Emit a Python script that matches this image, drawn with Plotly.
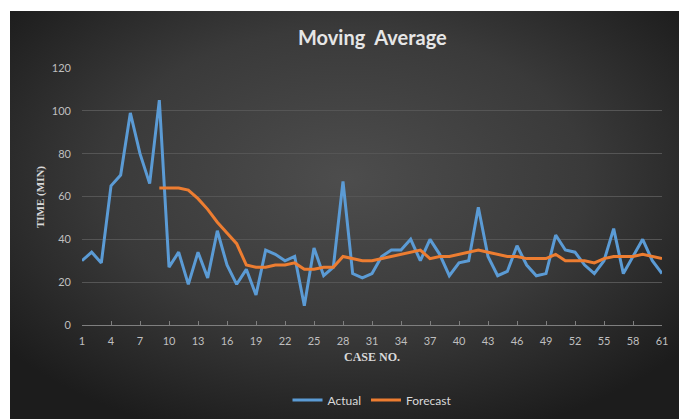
import base64
import plotly.graph_objects as go

cases = list(range(1, 62))
actual = [30, 34, 29, 65, 70, 99, 80, 66, 105, 27, 34, 19, 34, 22, 44, 28, 19, 26, 14, 35,
          33, 30, 32, 9, 36, 23, 27, 67, 24, 22, 24, 32, 35, 35, 40, 30, 40, 33, 23, 29,
          30, 55, 32, 23, 25, 37, 28, 23, 24, 42, 35, 34, 28, 24, 30, 45, 24, 32, 40, 30, 24]
forecast_cases = list(range(9, 62))
forecast = [64, 64, 64, 63, 59, 54, 48, 43, 38, 28, 27, 27, 28, 28, 29, 26, 26, 27, 27, 32,
            31, 30, 30, 31, 32, 33, 34, 35, 31, 32, 32, 33, 34, 35, 34, 33, 32, 32, 31, 31,
            31, 33, 30, 30, 30, 29, 31, 32, 32, 32, 33, 32, 31]
x_ticks = list(range(1, 62, 3))
y_ticks = [0, 20, 40, 60, 80, 100, 120]

svg = ("<svg xmlns='http://www.w3.org/2000/svg' width='671' height='408' preserveAspectRatio='none'>"
       "<defs><radialGradient id='g' cx='50%' cy='40%' r='65%'>"
       "<stop offset='0' stop-color='#4d4d4d'/><stop offset='0.55' stop-color='#3a3a3a'/>"
       "<stop offset='1' stop-color='#1c1c1c'/></radialGradient></defs>"
       "<rect width='671' height='408' fill='url(#g)'/></svg>")
bg_src = "data:image/svg+xml;base64," + base64.b64encode(svg.encode()).decode()

fig = go.Figure()
fig.add_trace(go.Scatter(x=cases, y=actual, mode="lines", name="Actual",
                         line=dict(color="#5B9BD5", width=3)))
fig.add_trace(go.Scatter(x=forecast_cases, y=forecast, mode="lines", name="Forecast",
                         line=dict(color="#ED7D31", width=3)))

# page body has an 8px default margin; figure is sized to fit the window
OFF = 8
W, H = 687 - OFF, 419 - OFF
plot_left, plot_right, plot_top, plot_bottom = 82, 662, 68, 325  # window pixels
L = plot_left - OFF
R = W - (plot_right - OFF)
T = plot_top - OFF
B = H - (plot_bottom - OFF)
pw, ph = W - L - R, H - T - B

def px2x(px):
    return (px - OFF - L) / pw

def py2y(py):
    return (H - B - (py - OFF)) / ph

fig.add_layout_image(dict(source=bg_src, xref="paper", yref="paper",
                          x=px2x(10), y=py2y(11), sizex=(681 - 10) / pw, sizey=(430 - 11) / ph,
                          xanchor="left", yanchor="top", sizing="stretch", layer="below"))

fig.update_layout(
    width=W, height=H,
    margin=dict(l=L, r=R, t=T, b=B, autoexpand=False),
    paper_bgcolor="white", plot_bgcolor="rgba(0,0,0,0)",
    font=dict(family="Lato", color="#bfbfbf", size=11),
    showlegend=True,
    legend=dict(orientation="h", x=0.5, xanchor="center", y=py2y(400), yanchor="middle",
                font=dict(color="#d9d9d9", size=12), bgcolor="rgba(0,0,0,0)"),
    xaxis=dict(range=[1, 61], tickvals=x_ticks, showgrid=False, zeroline=False,
               showline=True, linecolor="#7f7f7f", linewidth=1,
               ticks="inside", ticklen=4, tickcolor="#7f7f7f",
               ticklabelstandoff=6, tickfont=dict(size=11, color="#bfbfbf")),
    yaxis=dict(range=[0, 120], tickvals=y_ticks, showgrid=True, gridcolor="#555555",
               gridwidth=1, zeroline=False, showline=False,
               ticklabelstandoff=10, tickfont=dict(size=11, color="#bfbfbf")),
    annotations=[
        dict(text="<b>Moving  Average</b>", xref="paper", yref="paper", x=0.5, y=py2y(37),
             xanchor="center", yanchor="middle", showarrow=False,
             font=dict(family="Lato", size=20, color="#e6e6e6")),
        dict(text="<b>CASE NO.</b>", xref="paper", yref="paper", x=0.5, y=py2y(357),
             xanchor="center", yanchor="middle", showarrow=False,
             font=dict(family="Liberation Serif", size=12, color="#d9d9d9")),
        dict(text="<b>TIME (MIN)</b>", xref="paper", yref="paper", x=px2x(40), y=py2y(197),
             xanchor="center", yanchor="middle", showarrow=False, textangle=-90,
             font=dict(family="Liberation Serif", size=11, color="#d9d9d9")),
    ],
)

fig.write_html("out.html")
